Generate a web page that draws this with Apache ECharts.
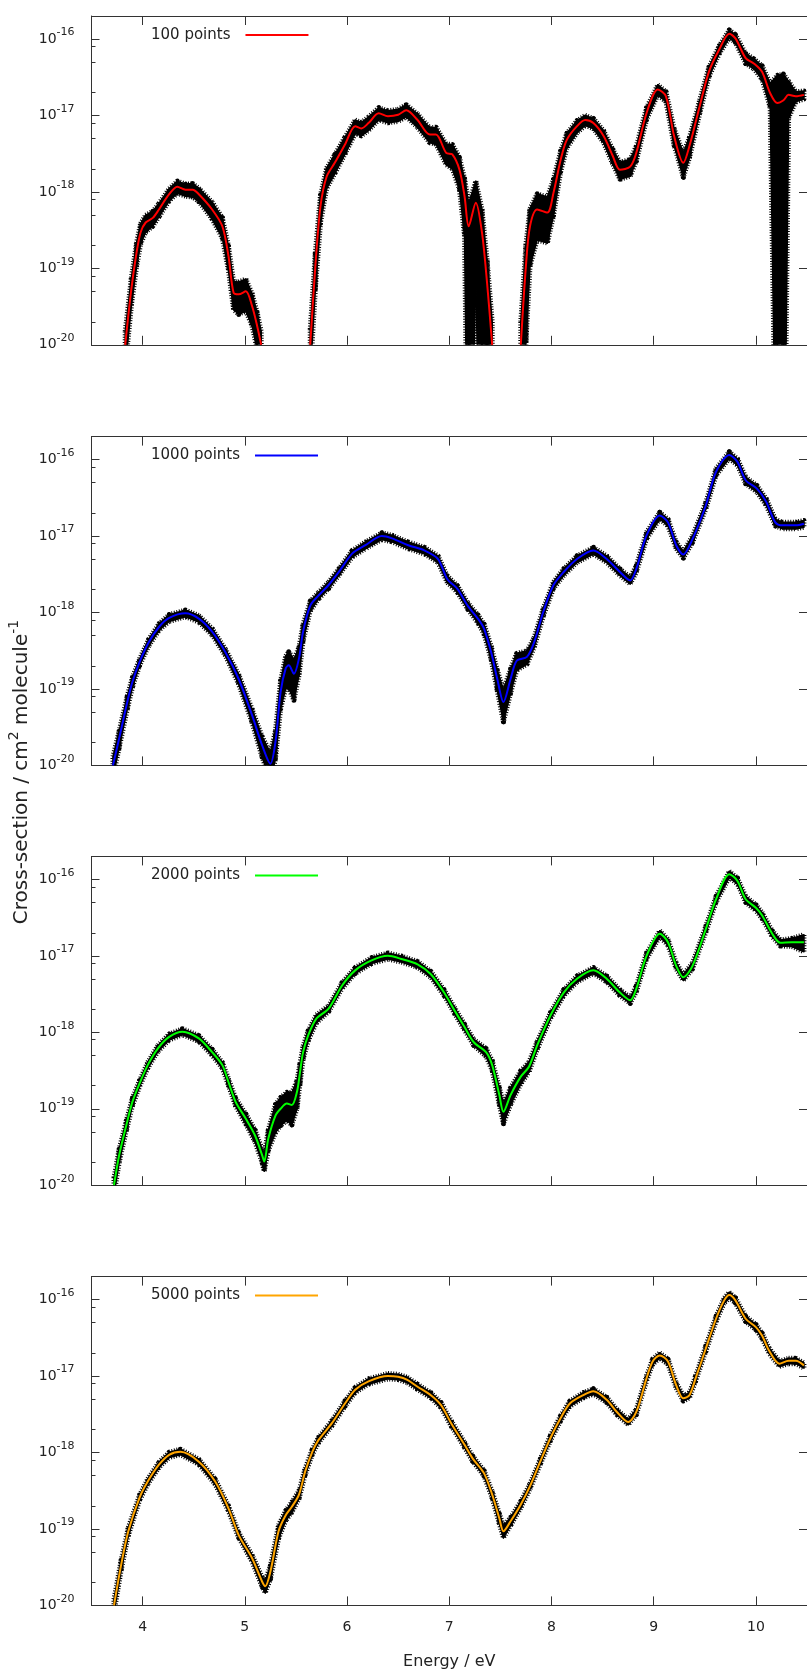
<!DOCTYPE html>
<html>
<head>
<meta charset="utf-8">
<script src="https://cdn.jsdelivr.net/npm/echarts@6/dist/echarts.min.js"></script>
<style>
  html, body { margin: 0; padding: 0; background: #ffffff; }
  #chart { width: 807px; height: 1673px; }
</style>
</head>
<body>
<div id="chart"></div>
<script>
// Absorption cross-section vs. photon energy for four ensemble sizes.
// Each row: [energy (eV), cross-section (cm^2 molecule^-1), relative error]
// A null cross-section marks a range where the spectrum is zero.
const points100 = [
  [3.83, 1.0e-20, 0.5], [3.89, 5.37e-20, 0.4], [3.94, 1.58e-19, 0.35], [3.98, 2.95e-19, 0.3],
  [4.03, 3.98e-19, 0.25], [4.10, 4.57e-19, 0.22], [4.16, 5.89e-19, 0.2], [4.26, 9.33e-19, 0.18],
  [4.34, 1.17e-18, 0.18], [4.42, 1.07e-18, 0.18], [4.49, 1.07e-18, 0.2], [4.55, 9.33e-19, 0.2],
  [4.68, 5.89e-19, 0.25], [4.78, 3.55e-19, 0.3], [4.84, 1.45e-19, 0.35], [4.89, 4.79e-20, 0.4],
  [4.94, 4.57e-20, 0.45], [5.01, 5.01e-20, 0.45], [5.07, 3.24e-20, 0.45], [5.12, 1.78e-20, 0.5],
  [5.16, 1.0e-20, 0.5], [5.40, null, null],
  [5.64, 1.0e-20, 0.6], [5.69, 1.07e-19, 0.5], [5.74, 6.46e-19, 0.4], [5.80, 1.58e-18, 0.3],
  [5.88, 2.40e-18, 0.28], [5.98, 4.17e-18, 0.25], [6.08, 7.24e-18, 0.2], [6.14, 6.76e-18, 0.2],
  [6.21, 7.94e-18, 0.2], [6.31, 1.07e-17, 0.18], [6.40, 9.77e-18, 0.18], [6.50, 1.02e-17, 0.18],
  [6.58, 1.17e-17, 0.18], [6.69, 8.71e-18, 0.2], [6.81, 5.62e-18, 0.22], [6.87, 5.62e-18, 0.25],
  [6.97, 3.24e-18, 0.3], [7.03, 3.09e-18, 0.35], [7.10, 1.95e-18, 0.45], [7.15, 8.71e-19, 0.7],
  [7.19, 3.55e-19, 1.0], [7.26, 7.24e-19, 0.9], [7.32, 2.95e-19, 1.0], [7.37, 6.46e-20, 1.0],
  [7.42, 1.0e-20, 1.0], [7.56, null, null],
  [7.70, 1.0e-20, 1.0], [7.75, 1.07e-19, 0.9], [7.79, 3.55e-19, 0.7], [7.86, 5.89e-19, 0.6],
  [7.96, 5.37e-19, 0.6], [8.02, 9.77e-19, 0.5], [8.09, 2.63e-18, 0.3], [8.15, 4.79e-18, 0.22],
  [8.25, 7.24e-18, 0.18], [8.33, 8.71e-18, 0.15], [8.41, 7.94e-18, 0.15], [8.51, 5.37e-18, 0.18],
  [8.60, 2.95e-18, 0.22], [8.67, 1.95e-18, 0.25], [8.77, 2.14e-18, 0.25], [8.83, 3.24e-18, 0.22],
  [8.93, 1.07e-17, 0.18], [9.04, 2.19e-17, 0.15], [9.12, 1.78e-17, 0.15], [9.20, 5.37e-18, 0.25],
  [9.29, 2.40e-18, 0.35], [9.35, 3.98e-18, 0.3], [9.45, 1.32e-17, 0.2], [9.54, 3.72e-17, 0.15],
  [9.64, 7.24e-17, 0.12], [9.74, 1.17e-16, 0.12], [9.80, 1.02e-16, 0.12], [9.90, 5.62e-17, 0.15],
  [9.98, 4.79e-17, 0.15], [10.06, 3.72e-17, 0.2], [10.14, 1.95e-17, 0.35], [10.21, 1.45e-17, 1.3],
  [10.27, 1.58e-17, 1.2], [10.32, 1.86e-17, 0.5], [10.39, 1.78e-17, 0.15], [10.47, 1.86e-17, 0.12]
];

const points1000 = [
  [3.71, 1.0e-20, 0.3], [3.77, 2.24e-20, 0.25], [3.85, 6.76e-20, 0.2], [3.90, 1.23e-19, 0.15],
  [3.97, 2.24e-19, 0.1], [4.06, 4.07e-19, 0.1], [4.16, 6.46e-19, 0.1], [4.26, 8.51e-19, 0.1],
  [4.42, 9.77e-19, 0.1], [4.55, 8.32e-19, 0.1], [4.68, 5.62e-19, 0.1], [4.81, 3.02e-19, 0.1],
  [4.94, 1.35e-19, 0.15], [5.07, 4.57e-20, 0.2], [5.17, 1.82e-20, 0.3], [5.25, 1.05e-20, 0.4],
  [5.30, 2.04e-20, 0.4], [5.35, 9.12e-20, 0.4], [5.40, 1.86e-19, 0.45], [5.43, 2.04e-19, 0.5],
  [5.48, 1.58e-19, 0.55], [5.53, 2.51e-19, 0.4], [5.57, 5.62e-19, 0.25], [5.64, 1.23e-18, 0.15],
  [5.72, 1.66e-18, 0.1], [5.82, 2.29e-18, 0.1], [5.92, 3.39e-18, 0.1], [6.05, 5.89e-18, 0.1],
  [6.18, 7.59e-18, 0.1], [6.34, 1.0e-17, 0.1], [6.44, 9.33e-18, 0.1], [6.60, 7.59e-18, 0.1],
  [6.76, 6.46e-18, 0.1], [6.89, 5.01e-18, 0.1], [6.98, 2.75e-18, 0.1], [7.08, 2.04e-18, 0.1],
  [7.18, 1.23e-18, 0.1], [7.28, 8.32e-19, 0.12], [7.34, 6.17e-19, 0.15], [7.41, 3.02e-19, 0.2],
  [7.47, 1.35e-19, 0.3], [7.53, 6.76e-20, 0.45], [7.60, 1.35e-19, 0.35], [7.66, 2.34e-19, 0.25],
  [7.76, 2.63e-19, 0.2], [7.83, 4.07e-19, 0.15], [7.92, 1.02e-18, 0.12], [8.02, 2.29e-18, 0.1],
  [8.12, 3.39e-18, 0.1], [8.25, 5.01e-18, 0.1], [8.41, 6.46e-18, 0.1], [8.54, 5.01e-18, 0.1],
  [8.67, 3.39e-18, 0.1], [8.77, 2.63e-18, 0.1], [8.83, 3.72e-18, 0.1], [8.93, 1.02e-17, 0.1],
  [9.06, 1.86e-17, 0.1], [9.14, 1.51e-17, 0.1], [9.22, 7.59e-18, 0.1], [9.29, 5.75e-18, 0.1],
  [9.38, 9.12e-18, 0.1], [9.51, 2.51e-17, 0.1], [9.61, 6.92e-17, 0.1], [9.74, 1.15e-16, 0.1],
  [9.82, 9.33e-17, 0.1], [9.90, 5.37e-17, 0.1], [10.01, 4.17e-17, 0.1], [10.10, 2.82e-17, 0.1],
  [10.19, 1.51e-17, 0.1], [10.26, 1.38e-17, 0.1], [10.39, 1.38e-17, 0.1], [10.47, 1.45e-17, 0.1]
];

const points2000 = [
  [3.72, 1.0e-20, 0.25], [3.77, 2.45e-20, 0.2], [3.84, 6.03e-20, 0.15], [3.90, 1.23e-19, 0.12],
  [3.97, 2.14e-19, 0.09], [4.05, 3.72e-19, 0.09], [4.15, 6.17e-19, 0.09], [4.26, 8.71e-19, 0.09],
  [4.39, 1.02e-18, 0.09], [4.55, 8.32e-19, 0.09], [4.68, 5.50e-19, 0.09], [4.78, 3.72e-19, 0.09],
  [4.84, 2.24e-19, 0.1], [4.91, 1.23e-19, 0.12], [5.01, 7.41e-20, 0.15], [5.10, 4.47e-20, 0.18],
  [5.17, 2.45e-20, 0.2], [5.19, 2.04e-20, 0.25], [5.23, 4.07e-20, 0.3], [5.30, 8.13e-20, 0.4],
  [5.35, 1.0e-19, 0.4], [5.41, 1.17e-19, 0.4], [5.46, 1.12e-19, 0.45], [5.51, 1.66e-19, 0.4],
  [5.54, 3.02e-19, 0.3], [5.57, 5.50e-19, 0.2], [5.62, 9.12e-19, 0.15], [5.70, 1.51e-18, 0.12],
  [5.82, 2.04e-18, 0.09], [5.95, 4.07e-18, 0.09], [6.08, 6.46e-18, 0.09], [6.24, 8.71e-18, 0.09],
  [6.40, 1.0e-17, 0.09], [6.53, 9.12e-18, 0.09], [6.69, 7.76e-18, 0.09], [6.82, 5.75e-18, 0.09],
  [6.95, 3.31e-18, 0.09], [7.05, 1.95e-18, 0.09], [7.15, 1.17e-18, 0.09], [7.24, 7.41e-19, 0.09],
  [7.36, 5.50e-19, 0.12], [7.42, 3.72e-19, 0.15], [7.49, 1.51e-19, 0.25], [7.53, 9.12e-20, 0.3],
  [7.60, 1.51e-19, 0.25], [7.70, 2.63e-19, 0.2], [7.78, 3.55e-19, 0.15], [7.86, 6.76e-19, 0.12],
  [7.99, 1.66e-18, 0.09], [8.12, 3.31e-18, 0.09], [8.25, 5.01e-18, 0.09], [8.41, 6.46e-18, 0.09],
  [8.54, 5.01e-18, 0.09], [8.67, 3.31e-18, 0.09], [8.77, 2.63e-18, 0.09], [8.83, 3.72e-18, 0.09],
  [8.93, 1.0e-17, 0.09], [9.06, 1.95e-17, 0.09], [9.14, 1.51e-17, 0.09], [9.22, 7.41e-18, 0.09],
  [9.29, 5.25e-18, 0.09], [9.38, 7.41e-18, 0.09], [9.51, 2.24e-17, 0.09], [9.61, 5.50e-17, 0.09],
  [9.74, 1.17e-16, 0.09], [9.82, 9.55e-17, 0.09], [9.90, 5.50e-17, 0.09], [10.00, 4.27e-17, 0.09],
  [10.06, 3.39e-17, 0.09], [10.16, 1.95e-17, 0.09], [10.24, 1.48e-17, 0.09], [10.35, 1.51e-17, 0.12],
  [10.47, 1.51e-17, 0.25]
];

const points5000 = [
  [3.72, 1.0e-20, 0.2], [3.79, 3.39e-20, 0.15], [3.86, 9.33e-20, 0.12], [3.97, 2.57e-19, 0.08],
  [4.05, 4.17e-19, 0.08], [4.16, 6.92e-19, 0.08], [4.26, 9.33e-19, 0.08], [4.37, 1.02e-18, 0.08],
  [4.55, 7.59e-19, 0.08], [4.71, 4.17e-19, 0.08], [4.84, 1.86e-19, 0.08], [4.94, 8.32e-20, 0.08],
  [5.07, 4.17e-20, 0.1], [5.17, 2.04e-20, 0.15], [5.20, 1.78e-20, 0.18], [5.25, 2.75e-20, 0.2],
  [5.33, 9.33e-20, 0.2], [5.40, 1.51e-19, 0.15], [5.46, 1.95e-19, 0.15], [5.53, 2.82e-19, 0.12],
  [5.59, 5.62e-19, 0.1], [5.66, 1.02e-18, 0.08], [5.72, 1.45e-18, 0.08], [5.85, 2.40e-18, 0.08],
  [5.98, 4.37e-18, 0.08], [6.08, 6.61e-18, 0.08], [6.21, 8.51e-18, 0.08], [6.40, 1.0e-17, 0.08],
  [6.50, 9.77e-18, 0.08], [6.59, 8.91e-18, 0.08], [6.69, 7.24e-18, 0.08], [6.82, 5.62e-18, 0.08],
  [6.92, 4.17e-18, 0.08], [7.02, 2.40e-18, 0.08], [7.15, 1.26e-18, 0.08], [7.23, 8.32e-19, 0.08],
  [7.34, 5.37e-19, 0.08], [7.42, 2.82e-19, 0.1], [7.49, 1.38e-19, 0.15], [7.53, 9.33e-20, 0.18],
  [7.60, 1.26e-19, 0.12], [7.70, 2.09e-19, 0.1], [7.79, 3.63e-19, 0.08], [7.89, 7.59e-19, 0.08],
  [7.99, 1.55e-18, 0.08], [8.09, 2.82e-18, 0.08], [8.18, 4.37e-18, 0.08], [8.31, 5.62e-18, 0.08],
  [8.41, 6.31e-18, 0.08], [8.54, 4.90e-18, 0.08], [8.64, 3.39e-18, 0.08], [8.75, 2.51e-18, 0.08],
  [8.83, 3.39e-18, 0.08], [8.93, 9.33e-18, 0.08], [8.99, 1.55e-17, 0.08], [9.06, 1.86e-17, 0.08],
  [9.14, 1.55e-17, 0.08], [9.22, 7.59e-18, 0.08], [9.29, 5.13e-18, 0.08], [9.35, 5.62e-18, 0.08],
  [9.41, 9.33e-18, 0.08], [9.51, 2.29e-17, 0.08], [9.61, 5.62e-17, 0.08], [9.69, 9.77e-17, 0.08],
  [9.74, 1.15e-16, 0.08], [9.80, 9.77e-17, 0.08], [9.90, 5.62e-17, 0.08], [10.00, 4.37e-17, 0.08],
  [10.06, 3.39e-17, 0.08], [10.13, 2.14e-17, 0.08], [10.23, 1.45e-17, 0.08], [10.32, 1.58e-17, 0.08],
  [10.39, 1.58e-17, 0.08], [10.47, 1.38e-17, 0.08]
];

const panelNames = ['100 points', '1000 points', '2000 points', '5000 points'];
const panelColors = ['#ff0000', '#0000ff', '#00ff00', '#ffa500'];
const panelPoints = [points100, points1000, points2000, points5000];

const xTicks = [4, 5, 6, 7, 8, 9, 10];
const yTicks = [1e-20, 1e-19, 1e-18, 1e-17, 1e-16];
const yMinorTicks = [2e-20, 5e-20, 8e-20, 2e-19, 5e-19, 8e-19, 2e-18, 5e-18, 8e-18, 2e-17, 5e-17, 8e-17];

const X_MIN = 3.5, X_MAX = 10.5;
const Y_MIN = 1e-20, Y_MAX = 2e-16;
const FONT = 'DejaVu Sans';
const TEXT = '#222222';
const AXIS = '#333333';

const gridTops = [16, 436.6, 856.4, 1276.6];
const GRID_LEFT = 91.5, GRID_WIDTH = 720, GRID_HEIGHT = 328.8;

// Lower end of an error bar; bars reaching zero are drawn off the bottom of the log axis.
function lowerBound(v, r) { return Math.max(v * (1 - r), 1e-23); }

// Consecutive error-bar pairs, each one filled as a quadrilateral of the band.
function bandRows(pts) {
  const rows = [];
  for (let i = 0; i + 1 < pts.length; i++) {
    const a = pts[i], b = pts[i + 1];
    if (a[1] == null || b[1] == null) continue;
    rows.push([a[0], lowerBound(a[1], a[2]), a[1] * (1 + a[2]),
               b[0], lowerBound(b[1], b[2]), b[1] * (1 + b[2])]);
  }
  return rows;
}

// Solid core of the error band with a dashed rim that mimics the bar caps.
function renderBand(params, api) {
  const a0 = api.coord([api.value(0), api.value(1)]);
  const a1 = api.coord([api.value(0), api.value(2)]);
  const b0 = api.coord([api.value(3), api.value(4)]);
  const b1 = api.coord([api.value(3), api.value(5)]);
  const cs = params.coordSys;
  const clip = { type: 'rect', shape: { x: cs.x, y: cs.y, width: cs.width, height: cs.height } };
  const pts = [a1, b1, b0, a0];
  return {
    type: 'group',
    children: [
      { type: 'polygon', shape: { points: pts }, clipPath: clip,
        style: { fill: null, stroke: '#000000', lineWidth: 5, lineDash: [1, 1.6], lineJoin: 'round', lineCap: 'butt' } },
      { type: 'polygon', shape: { points: pts }, clipPath: clip,
        style: { fill: '#000000', stroke: '#000000', lineWidth: 1.6, lineJoin: 'round' } }
    ]
  };
}

const expLabel = {
  formatter: v => '{m|10}{e|' + Math.round(Math.log10(v)) + '}',
  rich: {
    m: { fontSize: 14, lineHeight: 24, color: TEXT, fontFamily: FONT },
    e: { fontSize: 11, lineHeight: 11, verticalAlign: 'top', color: TEXT, fontFamily: FONT }
  }
};

const grids = [], xAxes = [], yAxes = [], series = [], legends = [];

panelPoints.forEach((pts, i) => {
  const last = i === panelPoints.length - 1;
  grids.push({ left: GRID_LEFT, width: GRID_WIDTH, top: gridTops[i], height: GRID_HEIGHT });

  // bottom and mirrored top energy axes
  xAxes.push({
    gridIndex: i, type: 'value', min: X_MIN, max: X_MAX, position: 'bottom',
    axisLine: { show: true, onZero: false, lineStyle: { color: AXIS, width: 1 } },
    axisTick: { show: true, inside: true, length: 9, customValues: xTicks, lineStyle: { color: AXIS } },
    axisLabel: { show: last, customValues: xTicks, margin: 15, color: TEXT, fontSize: 14, fontFamily: FONT },
    splitLine: { show: false },
    name: last ? 'Energy / eV' : '',
    nameLocation: 'middle', nameGap: 48,
    nameTextStyle: { color: TEXT, fontSize: 16, fontFamily: FONT }
  });
  xAxes.push({
    gridIndex: i, type: 'value', min: X_MIN, max: X_MAX, position: 'top',
    axisLine: { show: true, onZero: false, lineStyle: { color: AXIS, width: 1 } },
    axisTick: { show: true, inside: true, length: 9, customValues: xTicks, lineStyle: { color: AXIS } },
    axisLabel: { show: false }, splitLine: { show: false }
  });

  // log cross-section axes: labelled decades, minor ticks, mirrored right side
  yAxes.push({
    gridIndex: i, type: 'log', logBase: 10, min: Y_MIN, max: Y_MAX, position: 'left',
    axisLine: { show: true, lineStyle: { color: AXIS, width: 1 } },
    axisTick: { show: true, inside: true, length: 8, customValues: yTicks, lineStyle: { color: AXIS } },
    axisLabel: Object.assign({ customValues: yTicks, margin: 17, color: TEXT, fontFamily: FONT }, expLabel),
    splitLine: { show: false }, minorTick: { show: false }
  });
  yAxes.push({
    gridIndex: i, type: 'log', logBase: 10, min: Y_MIN, max: Y_MAX, position: 'left',
    axisLine: { show: false },
    axisTick: { show: true, inside: true, length: 4, customValues: yMinorTicks, lineStyle: { color: AXIS } },
    axisLabel: { show: false }, splitLine: { show: false }
  });
  yAxes.push({
    gridIndex: i, type: 'log', logBase: 10, min: Y_MIN, max: Y_MAX, position: 'right',
    axisLine: { show: true, lineStyle: { color: AXIS, width: 1 } },
    axisTick: { show: true, inside: true, length: 8, customValues: yTicks, lineStyle: { color: AXIS } },
    axisLabel: { show: false }, splitLine: { show: false }
  });

  series.push({
    name: panelNames[i] + ' error', type: 'custom',
    xAxisIndex: 2 * i, yAxisIndex: 3 * i,
    renderItem: renderBand,
    encode: { x: [0, 3], y: [1, 2, 4, 5] },
    data: bandRows(pts),
    z: 2, silent: true
  });
  series.push({
    name: panelNames[i], type: 'line',
    xAxisIndex: 2 * i, yAxisIndex: 3 * i,
    data: pts.map(p => [p[0], p[1]]),
    showSymbol: false, smooth: 0.3, connectNulls: false,
    lineStyle: { color: panelColors[i], width: 2 },
    itemStyle: { color: panelColors[i] },
    z: 3, silent: true
  });

  legends.push({
    data: [panelNames[i]], left: 151, top: gridTops[i] + 11, padding: 0,
    align: 'right', icon: 'rect', itemWidth: 63, itemHeight: 2,
    selectedMode: false,
    textStyle: { color: TEXT, fontSize: 15, fontFamily: FONT, lineHeight: 16, padding: [0, 10, 0, 0] }
  });
});

const chart = echarts.init(document.getElementById('chart'), null, { renderer: 'canvas' });
chart.setOption({
  animation: false,
  backgroundColor: '#ffffff',
  grid: grids,
  xAxis: xAxes,
  yAxis: yAxes,
  legend: legends,
  series: series,
  graphic: [{
    type: 'text', x: 22, y: 772, rotation: Math.PI / 2,
    style: {
      text: 'Cross-section / cm{s|2} molecule{s|-1}',
      fill: TEXT, fontSize: 20, fontFamily: FONT, lineHeight: 30,
      align: 'center', verticalAlign: 'middle',
      rich: { s: { fontSize: 14, lineHeight: 14, verticalAlign: 'top', fill: TEXT, fontFamily: FONT } }
    }
  }]
});
</script>
</body>
</html>
